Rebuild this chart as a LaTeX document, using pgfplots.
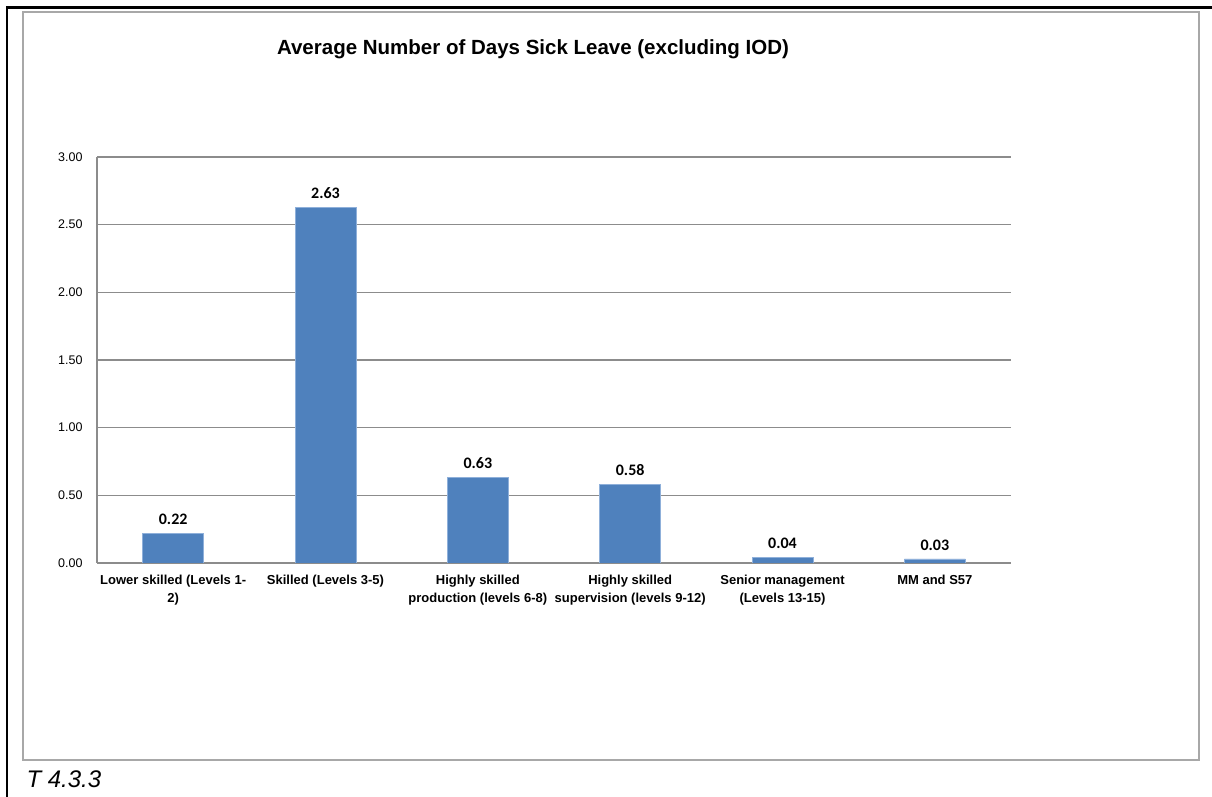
\documentclass[border=0pt]{standalone}
\usepackage{fontspec}
\setmainfont{Liberation Sans}
\newfontfamily\labelfont{Carlito}
\usepackage{pgfplots}
\pgfplotsset{compat=1.18}

\definecolor{barblue}{HTML}{4F81BD}
\definecolor{baredge}{HTML}{8FB0DA}
\definecolor{gridgray}{HTML}{8C8C8C}
\definecolor{framegray}{HTML}{A8A8A8}

\begin{document}
\begin{tikzpicture}[x=1pt,y=1pt]
  \useasboundingbox (0,0) rectangle (1212,797);
  % page edge rules
  \draw[black, line width=2.6pt] (7,0) -- (7,789.5) -- (1212,789.5);
  % chart area frame
  \draw[framegray, line width=1.6pt] (23,37) rectangle (1199,785);
  % title
  \node[font=\fontsize{20.5}{24}\selectfont\bfseries] at (533,748)
    {Average Number of Days Sick Leave (excluding IOD)};
  % caption
  \node[anchor=base west, font=\fontsize{24}{28}\selectfont\itshape] at (23,9)
    {T 4.3.3};

  \begin{axis}[
    at={(97pt,234pt)}, anchor=south west,
    scale only axis, width=914pt, height=406pt,
    xmin=-0.5, xmax=5.5, ymin=0, ymax=3,
    axis x line*=bottom, axis y line*=left,
    axis line style={gridgray, line width=1.8pt, -},
    major tick length=0pt,
    ytick={0,0.5,1,1.5,2,2.5,3},
    ymajorgrids, grid style={gridgray, line width=1.1pt},
    /pgf/number format/assume math mode=true,
    yticklabel={\pgfmathprintnumber[fixed, fixed zerofill, precision=2]{\tick}},
    yticklabel style={font=\fontsize{12.5}{15}\selectfont, xshift=-11pt},
    xtick=data,
    xticklabels={{Lower skilled (Levels 1-\\2)},
                 {Skilled (Levels 3-5)},
                 {Highly skilled\\production (levels 6-8)},
                 {Highly skilled\\supervision (levels 9-12)},
                 {Senior management\\(Levels 13-15)},
                 {MM and S57}},
    xticklabel style={font=\fontsize{13}{18}\selectfont\bfseries, align=center, yshift=-9pt},
    ybar, bar width=61pt,
    nodes near coords,
    nodes near coords style={font=\labelfont\fontsize{16}{19}\selectfont\bfseries, yshift=5pt,
      /pgf/number format/.cd, fixed, fixed zerofill, precision=2},
  ]
    \addplot[fill=barblue, draw=baredge, line width=0.8pt] coordinates {
      (0,0.22) (1,2.63) (2,0.63) (3,0.58) (4,0.04) (5,0.03)
    };
  \end{axis}
\end{tikzpicture}
\end{document}
